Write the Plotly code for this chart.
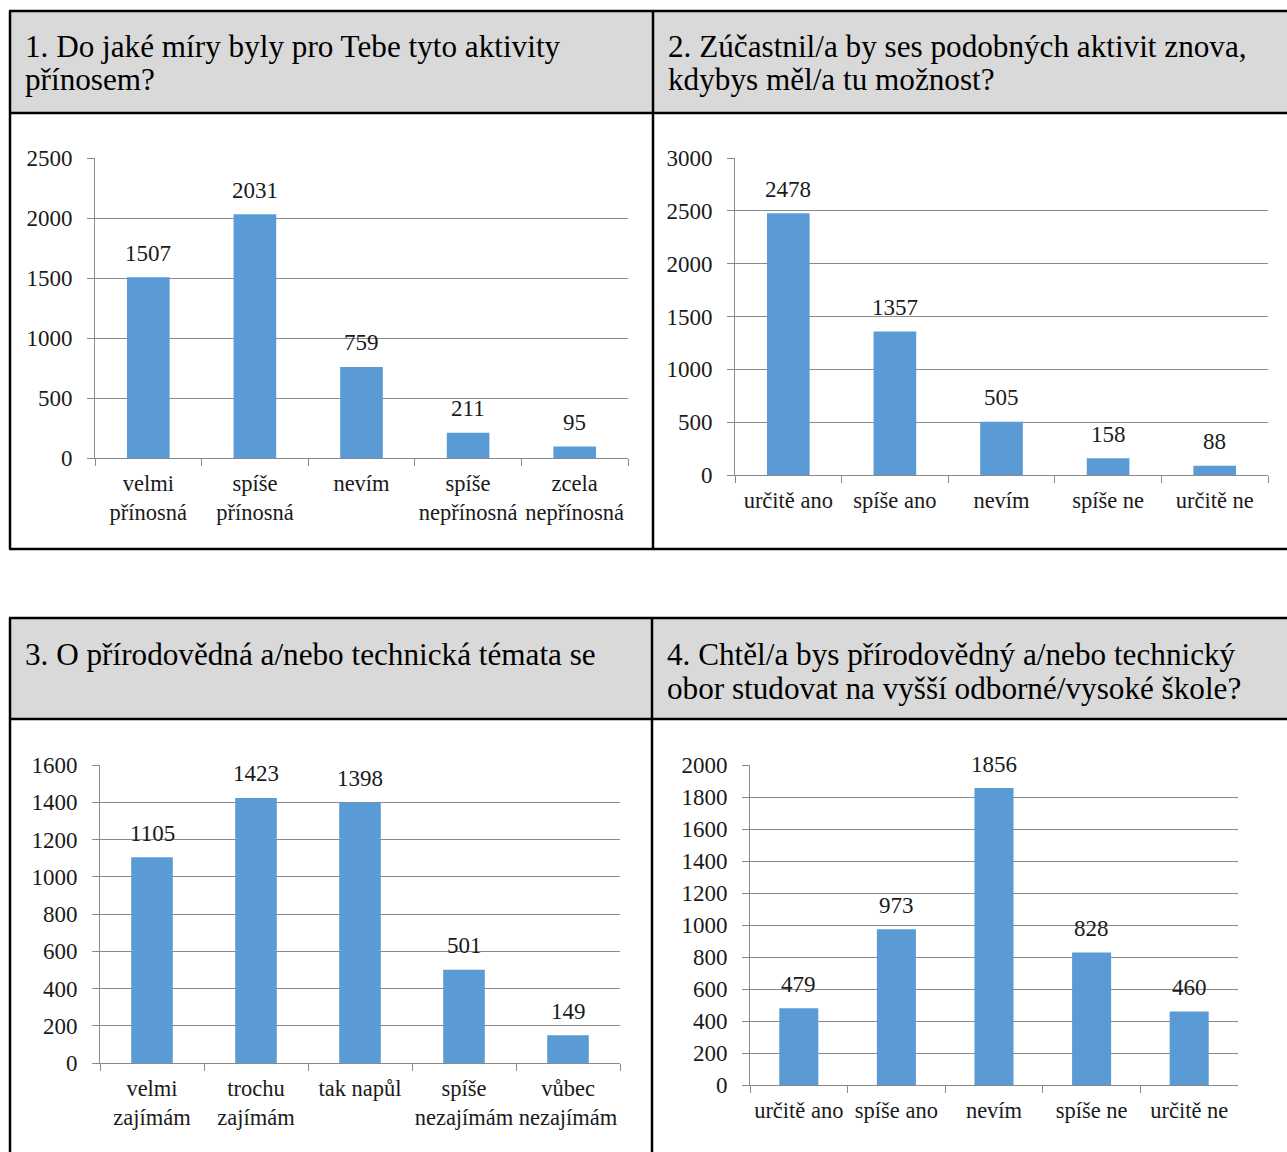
import plotly.graph_objects as go

W, H = 1287, 1152
FONT = "Liberation Serif"
BAR = "#5B9BD5"
GRID = "#8a8a8a"
HEAD_BG = "#D9D9D9"

# ---- data ----
titles1 = ["1. Do jaké míry byly pro Tebe tyto aktivity", "přínosem?"]
cats1 = ["velmi<br>přínosná", "spíše<br>přínosná", "nevím", "spíše<br>nepřínosná", "zcela<br>nepřínosná"]
vals1 = [1507, 2031, 759, 211, 95]

titles2 = ["2. Zúčastnil/a by ses podobných aktivit znova,", "kdybys měl/a tu možnost?"]
cats2 = ["určitě ano", "spíše ano", "nevím", "spíše ne", "určitě ne"]
vals2 = [2478, 1357, 505, 158, 88]

titles3 = ["3. O přírodovědná a/nebo technická témata se"]
cats3 = ["velmi<br>zajímám", "trochu<br>zajímám", "tak napůl", "spíše<br>nezajímám", "vůbec<br>nezajímám"]
vals3 = [1105, 1423, 1398, 501, 149]

titles4 = ["4. Chtěl/a bys přírodovědný a/nebo technický", "obor studovat na vyšší odborné/vysoké škole?"]
cats4 = ["určitě ano", "spíše ano", "nevím", "spíše ne", "určitě ne"]
vals4 = [479, 973, 1856, 828, 460]


def px(x):
    return x / W


def py(y):
    return 1 - y / H


fig = go.Figure()

# panel layout: (categories, values, axis max, dtick, x0, x1, ybottom, ytop)
panels = [
    (cats1, vals1, 2500, 500, 95, 628, 458, 158),
    (cats2, vals2, 3000, 500, 735, 1268, 475, 158),
    (cats3, vals3, 1600, 200, 100, 620, 1063, 765),
    (cats4, vals4, 2000, 200, 750, 1238, 1085, 765),
]

annotations = []
for i, (cats, vals, ymax, dt, x0, x1, yb, yt) in enumerate(panels, start=1):
    sfx = "" if i == 1 else str(i)
    fig.add_trace(go.Bar(
        x=cats, y=vals, marker=dict(color=BAR, line=dict(width=0)),
        xaxis="x" + sfx, yaxis="y" + sfx, showlegend=False, hoverinfo="x+y",
    ))
    fig.layout["xaxis" + sfx] = dict(
        domain=[px(x0), px(x1)], anchor="y" + sfx, type="category",
        showgrid=False, showline=True, linecolor=GRID, linewidth=1,
        ticks="outside", tickson="boundaries", ticklen=7, tickcolor=GRID,
        tickangle=0, automargin=False,
        tickfont=dict(family=FONT, size=22.5, color="#1a1a1a"),
        ticklabelstandoff=5, fixedrange=True,
    )
    fig.layout["yaxis" + sfx] = dict(
        domain=[py(yb), py(yt)], anchor="x" + sfx, range=[0, ymax], dtick=dt,
        showgrid=True, gridcolor=GRID, gridwidth=1, zeroline=False,
        showline=True, linecolor=GRID, linewidth=1,
        ticks="outside", ticklen=7, tickcolor=GRID, automargin=False,
        tickfont=dict(family=FONT, size=23, color="#1a1a1a"),
        ticklabelstandoff=10, fixedrange=True,
    )
    for c, v in zip(cats, vals):
        annotations.append(dict(
            x=c, y=v, xref="x" + sfx, yref="y" + sfx, text=str(v),
            showarrow=False, yanchor="middle", yshift=24,
            font=dict(family=FONT, size=23, color="#1a1a1a"),
        ))

# ---- table frame: header cells and borders ----
shapes = []
LW = 2.5


def rect(x0, y0, x1, y1, color):
    shapes.append(dict(type="rect", xref="paper", yref="paper",
                       x0=px(x0), x1=px(x1), y0=py(y1), y1=py(y0),
                       fillcolor=color, line=dict(width=0), layer="below"))


def line(x0, y0, x1, y1):
    shapes.append(dict(type="line", xref="paper", yref="paper",
                       x0=px(x0), x1=px(x1), y0=py(y0), y1=py(y1),
                       line=dict(color="black", width=LW), layer="above"))


# upper table
rect(10, 11, W, 113, HEAD_BG)
line(9, 11, W, 11)
line(9, 113, W, 113)
line(9, 549, W, 549)
line(10, 11, 10, 549)
line(653, 11, 653, 549)

# lower table
rect(10, 618, W, 719, HEAD_BG)
line(9, 618, W, 618)
line(9, 719, W, 719)
line(10, 618, 10, H)
line(652, 618, 652, H)

# header texts, one annotation per line
heads = [
    (titles1, 23, 46),
    (titles2, 666, 46),
    (titles3, 23, 654),
    (titles4, 665, 654),
]
for lines, xl, yc in heads:
    for k, t in enumerate(lines):
        annotations.append(dict(
            x=px(xl), y=py(yc + 34 * k), xref="paper", yref="paper",
            text=t, showarrow=False, xanchor="left", yanchor="middle",
            font=dict(family=FONT, size=31.2, color="black"),
        ))

fig.update_layout(
    width=W, height=H,
    margin=dict(l=0, r=0, t=0, b=0, pad=0, autoexpand=False),
    paper_bgcolor="white", plot_bgcolor="white",
    bargap=0.6, shapes=shapes, annotations=annotations,
    font=dict(family=FONT), showlegend=False,
)

page_js = "document.body.style.margin='0';"
fig.write_html("out.html", config={"displayModeBar": False}, post_script=page_js)
